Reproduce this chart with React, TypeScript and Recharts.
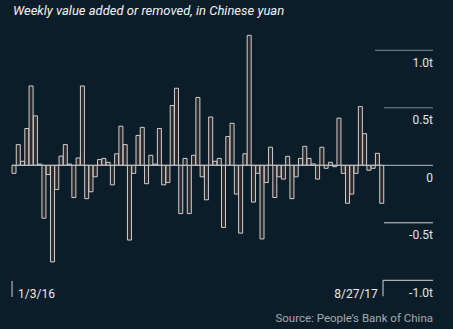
import { BarChart, Bar, XAxis, YAxis, ReferenceLine } from 'recharts'

// weekly net liquidity, trillion yuan
const weeklyValues = [
  -0.07, 0.18, 0.035, 0.32, 0.69, 0.43, 0.01, -0.46, -0.08, -0.84,
  -0.21, 0.08, 0.18, 0.01, -0.28, 0.064, 0.69, -0.29, -0.23, -0.1,
  0.05, 0.06, 0.026, -0.17, 0.1, 0.34, 0.18, -0.65, -0.07, 0.26,
  0.33, -0.16, 0.087, 0.01, 0.32, -0.17, -0.15, 0.52, 0.67, -0.42,
  0.06, -0.42, 0.087, 0.59, -0.1, -0.3, 0.42, 0.035, 0.06, -0.54,
  0.25, 0.365, -0.25, -0.59, 0.1, 1.13, -0.32, -0.07, -0.64, -0.15,
  0.157, -0.28, -0.1, -0.12, 0.078, -0.29, -0.1, 0.06, 0.165, 0.06,
  0.012, -0.12, 0.157, -0.026, 0.026, -0.012, 0.41, -0.07, -0.33, -0.25,
  -0.07, 0.51, 0.275, -0.043, -0.026, 0.104, -0.33,
]

const firstWeek = '1/3/16'
const lastWeek = '8/27/17'
const yTicks = [-1, -0.5, 0, 0.5, 1]
const yTickLabels = ['-1.0t', '-0.5t', '0', '0.5t', '1.0t']

const weeks = weeklyValues.map((_, i) => {
  const d = new Date(2016, 0, 3 + i * 7)
  return `${d.getMonth() + 1}/${d.getDate()}/${String(d.getFullYear()).slice(2)}`
})

const data = weeks.map((week, i) => ({ week, value: weeklyValues[i] }))

const BG = '#0b1d29'
const FONT = 'Roboto, "Liberation Sans", sans-serif'

function XTick(props: any) {
  const { x, payload } = props
  if (payload.value === firstWeek) {
    const left = x - 2.1
    return (
      <g>
        <line x1={left} x2={left} y1={281} y2={297} stroke="#d0d0d0" />
        <text x={left + 6} y={297.5} fill="#e8e8e8" fontSize={12} fontFamily={FONT}>
          {firstWeek}
        </text>
      </g>
    )
  }
  if (payload.value === lastWeek) {
    return (
      <text x={x - 4} y={297.5} fill="#e8e8e8" fontSize={12} fontFamily={FONT} textAnchor="end">
        {lastWeek}
      </text>
    )
  }
  return <g />
}

function YTick(props: any) {
  const { y, payload } = props
  const v = payload.value
  const label = yTickLabels[yTicks.indexOf(v)]
  const x1 = v === 1 ? 375 : v === -1 ? 383 : 384
  const stroke = v > 0 ? '#7f8b92' : v === 0 ? '#b8bec2' : '#d6d6d6'
  return (
    <g>
      <line x1={x1} x2={433} y1={y} y2={y} stroke={stroke} />
      {v === -1 && <line x1={383} x2={383} y1={y} y2={y + 16} stroke="#d6d6d6" />}
      <text x={433} y={y + 16.5} fill="#e4e4e4" fontSize={12} fontFamily={FONT} textAnchor="end">
        {label}
      </text>
    </g>
  )
}

export default function App() {
  return (
    <div style={{ position: 'fixed', left: 0, top: 0, width: 453, height: 329, background: BG, overflow: 'hidden' }}>
      <div
        style={{
          position: 'absolute',
          left: 13,
          top: 3,
          color: '#f2f2f2',
          fontFamily: FONT,
          fontStyle: 'italic',
          fontSize: 13,
          whiteSpace: 'nowrap',
        }}
      >
        Weekly value added or removed, in Chinese yuan
      </div>
      <BarChart
        width={453}
        height={329}
        data={data}
        barCategoryGap={0}
        margin={{ top: 27.3, right: 20, bottom: 18.7, left: 12 }}
      >
        <XAxis
          dataKey="week"
          interval={0}
          axisLine={false}
          tickLine={false}
          tick={<XTick />}
          height={30}
        />
        <YAxis
          orientation="right"
          domain={[-1, 1.2]}
          ticks={yTicks}
          width={49}
          axisLine={false}
          tickLine={false}
          tick={<YTick />}
        />
        <Bar dataKey="value" fill="#2e2a2b" stroke="#cfcfcf" strokeWidth={1} isAnimationActive={false} />
        <ReferenceLine y={0} stroke="#b8bec2" ifOverflow="visible" />
      </BarChart>
      <div
        style={{
          position: 'absolute',
          right: 20,
          top: 311,
          color: '#a3abb0',
          fontFamily: FONT,
          fontSize: 11.5,
          whiteSpace: 'nowrap',
        }}
      >
        Source: People’s Bank of China
      </div>
    </div>
  )
}
